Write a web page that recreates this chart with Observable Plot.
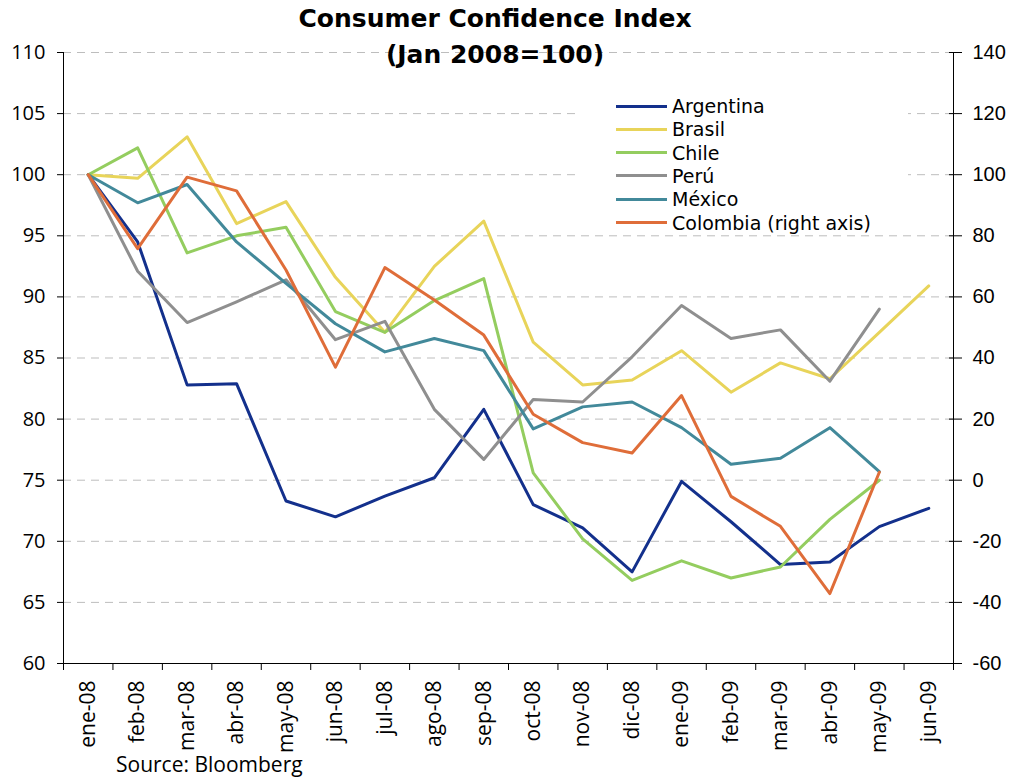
<!DOCTYPE html>
<html>
<head>
<meta charset="utf-8">
<script src="https://cdn.jsdelivr.net/npm/d3@7"></script>
<script src="https://cdn.jsdelivr.net/npm/@observablehq/plot@0.6"></script>
<style>
  body { margin: 0; background: #fff; }
  #wrap { position: relative; width: 1011px; height: 778px; overflow: hidden; font-family: "Open Sans", sans-serif; }
  .title { position: absolute; left: 0; width: 990px; text-align: center; font-family: "DejaVu Sans", sans-serif; font-weight: bold; font-size: 25px; color: #000; white-space: nowrap; line-height: 30px; }
  #legend { position: absolute; left: 578px; top: 90px; width: 330px; height: 144px; background: #fff; }
  .row { position: absolute; left: 0; height: 22px; line-height: 22px; display: flex; align-items: center; font-family: "DejaVu Sans", sans-serif; font-size: 19px; color: #000; white-space: nowrap; }
  .sw { display: inline-block; width: 51px; height: 3px; margin-left: 38px; margin-right: 5px; }
  #source { position: absolute; left: 116px; top: 753px; font-size: 21px; line-height: 22px; color: #000; white-space: nowrap; }
  svg { position: absolute; left: 0; top: 0; }
</style>
</head>
<body>
<div id="wrap"></div>
<script>
const months = ["ene-08","feb-08","mar-08","abr-08","may-08","jun-08","jul-08","ago-08","sep-08","oct-08","nov-08","dic-08","ene-09","feb-09","mar-09","abr-09","may-09","jun-09"];
const leftTicks = [60,65,70,75,80,85,90,95,100,105,110];
const seriesNames = ["Argentina","Brasil","Chile","Perú","México","Colombia (right axis)"];
const seriesColors = ["#13308C","#E8D45A","#94CD5F","#8F8F8F","#42899A","#DF6D39"];

const argentina = [100,94.5,82.8,82.9,73.3,72.0,73.7,75.2,80.8,73.0,71.1,67.5,74.9,71.6,68.1,68.3,71.2,72.7];
const brasil    = [100,99.7,103.1,96.0,97.8,91.6,87.1,92.5,96.2,86.3,82.8,83.2,85.6,82.2,84.6,83.3,87.1,90.9];
const chile     = [100,102.2,93.6,95.0,95.7,88.8,87.1,89.7,91.5,75.6,70.2,66.8,68.4,67.0,67.9,71.8,75.0];
const peru      = [100,92.1,87.9,89.6,91.4,86.5,88.0,80.8,76.7,81.6,81.4,85.1,89.3,86.6,87.3,83.1,89.0];
const mexico    = [100,97.7,99.2,94.5,91.1,87.8,85.5,86.6,85.6,79.2,81.0,81.4,79.3,76.3,76.8,79.3,75.7];
const colombia  = [100,75.8,99.2,94.7,68.8,37.0,69.6,59.0,47.5,21.6,12.3,8.9,27.7,-5.3,-15.1,-37.1,2.6];

const seriesValues = [argentina, brasil, chile, peru, mexico, colombia];
const RIGHT = "Colombia (right axis)";
// right axis (-60..140) mapped onto left axis (60..110)
const toLeft = v => 75 + v / 4;
const toRight = y => (y - 75) * 4;

const rows = [];
seriesNames.forEach((name, k) => {
  seriesValues[k].forEach((v, i) => rows.push({series: name, i, v}));
});

const idx = months.map((m, i) => i);
const boundaries = months.map((m, i) => i - 0.5).concat([months.length - 0.5]);

const chart = Plot.plot({
  width: 1011,
  height: 778,
  marginTop: 52,
  marginBottom: 115,
  marginLeft: 63,
  marginRight: 58,
  style: {fontFamily: "'Open Sans', sans-serif", fontSize: "20px", color: "#000", background: "transparent"},
  x: {domain: [-0.5, months.length - 0.5]},
  y: {domain: [60, 110]},
  color: {domain: seriesNames, range: seriesColors},
  marks: [
    Plot.gridY(leftTicks.filter(t => t > 60), {stroke: "#bdbdbd", strokeOpacity: 1, strokeDasharray: "8,6"}),
    Plot.axisY({ticks: leftTicks, anchor: "left", tickSize: 6, tickPadding: 12, label: null, tickFormat: d => String(d)}),
    Plot.axisY({ticks: leftTicks, anchor: "right", tickSize: 8, tickPadding: 11, label: null,
      tickFormat: d => String(toRight(d)), fontFamily: "'Liberation Sans Narrow', sans-serif"}),
    Plot.axisY({ticks: leftTicks, anchor: "right", tickSize: -5, label: null, tickFormat: () => ""}),
    Plot.axisX({ticks: boundaries, tickSize: 7, tickFormat: () => "", label: null}),
    Plot.axisX({ticks: idx, tickSize: 0, tickPadding: 17, tickRotate: -90, label: null, fontSize: 21, tickFormat: i => months[i]}),
    Plot.ruleX([-0.5, months.length - 0.5], {stroke: "#000"}),
    Plot.ruleY([60], {stroke: "#000"}),
    Plot.line(rows, {
      x: "i",
      y: d => d.series === RIGHT ? toLeft(d.v) : d.v,
      z: "series",
      stroke: "series",
      strokeWidth: 3,
      strokeLinejoin: "round"
    })
  ]
});

const wrap = document.getElementById("wrap");
wrap.appendChild(chart);

const t1 = document.createElement("div");
t1.className = "title"; t1.style.top = "4px"; t1.textContent = "Consumer Confidence Index";
const t2 = document.createElement("div");
t2.className = "title"; t2.style.top = "40px"; t2.textContent = "(Jan 2008=100)";
wrap.appendChild(t1); wrap.appendChild(t2);

const legend = document.createElement("div");
legend.id = "legend";
seriesNames.forEach((name, k) => {
  const row = document.createElement("div");
  row.className = "row";
  row.style.top = (5 + k * 23.3) + "px";
  const sw = document.createElement("span");
  sw.className = "sw"; sw.style.background = seriesColors[k];
  const tx = document.createElement("span");
  tx.textContent = name;
  row.appendChild(sw); row.appendChild(tx);
  legend.appendChild(row);
});
wrap.appendChild(legend);

const src = document.createElement("div");
src.id = "source"; src.textContent = "Source: Bloomberg";
wrap.appendChild(src);
</script>
</body>
</html>
